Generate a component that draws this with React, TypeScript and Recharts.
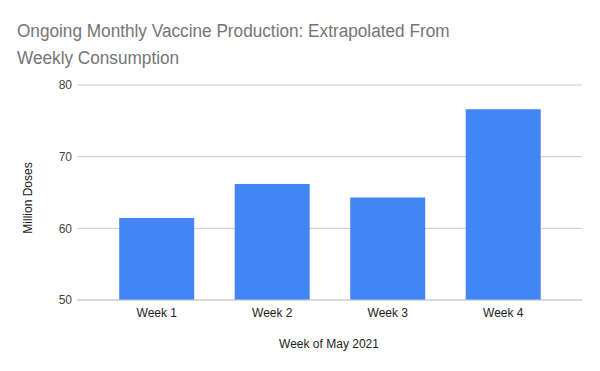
import React from "react";
import { BarChart, Bar, XAxis, YAxis, CartesianGrid } from "recharts";

const weeks = ["Week 1", "Week 2", "Week 3", "Week 4"];
const doses = [61.45, 66.2, 64.3, 76.6];
const yTicks = [50, 60, 70, 80];

const data = weeks.map((week, i) => ({ week, doses: doses[i] }));

const font = '"Liberation Sans", Arial, sans-serif';

export default function App() {
  return (
    <div
      style={{
        position: "absolute",
        left: 0,
        top: 0,
        width: 600,
        height: 371,
        background: "#fff",
        fontFamily: font,
      }}
    >
      {/* title, slightly condensed like the original rendering */}
      <div
        style={{
          position: "absolute",
          left: 17,
          top: 18,
          whiteSpace: "nowrap",
          fontSize: 18,
          lineHeight: "27px",
          color: "#757575",
          transform: "scaleX(0.955)",
          transformOrigin: "0 0",
        }}
      >
        Ongoing Monthly Vaccine Production: Extrapolated From
        <br />
        Weekly Consumption
      </div>

      <BarChart
        width={600}
        height={371}
        data={data}
        margin={{ top: 85, right: 18, left: 37, bottom: 41 }}
        barCategoryGap="17.5%"
      >
        <CartesianGrid vertical={false} stroke="#cccccc" />
        <XAxis
          dataKey="week"
          height={30}
          padding={{ left: 22, right: 21 }}
          axisLine={{ stroke: "#cccccc" }}
          tickLine={false}
          tick={{ fontSize: 12, fill: "#222222", fontFamily: font }}
        />
        <YAxis
          width={40}
          domain={[50, 80]}
          ticks={yTicks}
          axisLine={false}
          tickLine={false}
          tickSize={3}
          tickMargin={2}
          tick={{ fontSize: 12, fill: "#444444", fontFamily: font }}
        />
        <Bar dataKey="doses" fill="#4285f4" isAnimationActive={false} />
      </BarChart>

      {/* axis titles */}
      <div
        style={{
          position: "absolute",
          left: 28,
          top: 198,
          transform: "translate(-50%, -50%) rotate(-90deg)",
          whiteSpace: "nowrap",
          fontSize: 12,
          color: "#222222",
        }}
      >
        Million Doses
      </div>
      <div
        style={{
          position: "absolute",
          left: 329,
          top: 344,
          transform: "translate(-50%, -50%)",
          whiteSpace: "nowrap",
          fontSize: 12,
          color: "#222222",
        }}
      >
        Week of May 2021
      </div>
    </div>
  );
}
